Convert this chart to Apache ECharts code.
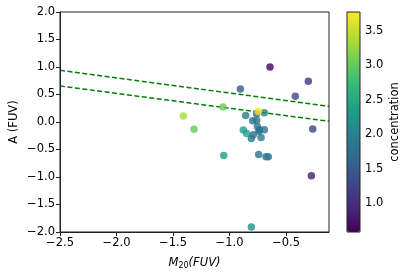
<!DOCTYPE html>
<html><head><meta charset="utf-8">
<script src="https://cdn.jsdelivr.net/npm/echarts@6/dist/echarts.min.js"></script>
<style>html,body{margin:0;padding:0;background:#fff}#c{width:407px;height:275px}</style>
</head><body><div id="c"></div>
<script>
// Data
var m20 = [-0.642, -0.303, -0.418, -0.904, -1.058, -1.409, -1.314, -0.692, -0.760, -0.857, -0.795, -0.760, -0.754, -0.736, -0.692, -0.740, -0.878, -0.848, -0.789, -0.807, -0.721, -1.051, -0.742, -0.677, -0.657, -0.264, -0.276, -0.807, -0.745];
var asym = [1.00, 0.74, 0.467, 0.60, 0.273, 0.109, -0.133, 0.17, 0.15, 0.12, 0.025, 0.03, -0.08, -0.14, -0.14, -0.17, -0.145, -0.21, -0.23, -0.30, -0.28, -0.61, -0.59, -0.63, -0.63, -0.127, -0.975, -1.91, 0.195];
var conc = [0.60, 1.06, 1.28, 1.50, 3.05, 3.35, 3.00, 2.00, 1.80, 1.90, 1.80, 1.80, 1.80, 1.80, 1.80, 1.80, 2.35, 2.35, 1.80, 1.85, 1.85, 2.35, 1.80, 1.80, 1.80, 1.22, 0.84, 2.20, 3.77];
var upperLine = [[-2.5, 0.94], [-0.12, 0.285]];
var lowerLine = [[-2.5, 0.655], [-0.12, 0.013]];
var xTicks = [-2.5, -2.0, -1.5, -1.0, -0.5];
var yTicks = [-2.0, -1.5, -1.0, -0.5, 0.0, 0.5, 1.0, 1.5, 2.0];
var cTicks = [1.0, 1.5, 2.0, 2.5, 3.0, 3.5];
var cMin = 0.584, cMax = 3.775;

var viridis = ['#440154','#482878','#3e4989','#31688e','#26828e','#1f9e89','#35b779','#6ece58','#b5de2b','#fde725'];
var pts = m20.map(function(x, i){ return [x, asym[i], conc[i]]; });
function fmt(v){ return v.toFixed(1).replace('-', '\u2212'); }
var font = 'DejaVu Sans';
var fs = 11.5;
var axisCol = '#222';

var chart = echarts.init(document.getElementById('c'), null, {renderer:'canvas'});
chart.setOption({
  animation: false,
  textStyle: {fontFamily: font},
  grid: [
    {left: 60, top: 12, width: 269, height: 220, show: true, borderColor: axisCol, borderWidth: 1, z: 10, containLabel: false, outerBoundsMode: 'none'},
    {left: 347, top: 12, width: 13, height: 220, show: true, borderColor: axisCol, borderWidth: 1, z: 10, backgroundColor: 'transparent', containLabel: false, outerBoundsMode: 'none'}
  ],
  xAxis: [
    {type: 'value', gridIndex: 0, min: -2.5, max: -0.12, interval: 0.5,
     splitLine: {show: false},
     axisLine: {show: true, onZero: false, lineStyle: {color: axisCol}},
     axisTick: {show: true, length: 4, customValues: xTicks, lineStyle: {color: axisCol}},
     axisLabel: {customValues: xTicks, formatter: fmt, color: '#000', fontSize: fs, fontFamily: font, margin: 5},
     name: '{i|M}{s|20}{i|(FUV)}', nameLocation: 'middle', nameGap: 24, nameMoveOverlap: false,
     nameTextStyle: {rich: {i: {fontStyle: 'italic', fontSize: fs, fontFamily: font, color: '#000'}, s: {fontSize: 8, fontFamily: font, color: '#000', verticalAlign: 'bottom', padding: [6,0,0,0]}}}
    },
    {type: 'value', gridIndex: 1, min: 0, max: 1, show: false}
  ],
  yAxis: [
    {type: 'value', gridIndex: 0, min: -2, max: 2, interval: 0.5,
     splitLine: {show: false},
     axisLine: {show: true, onZero: false, lineStyle: {color: axisCol}},
     axisTick: {show: true, length: 4, lineStyle: {color: axisCol}},
     axisLabel: {customValues: yTicks, formatter: fmt, color: '#000', fontSize: fs, fontFamily: font, margin: 5},
     name: 'A (FUV)', nameLocation: 'middle', nameGap: 40, nameRotate: 90, nameMoveOverlap: false,
     nameTextStyle: {color: '#000', fontSize: fs, fontFamily: font}
    },
    {type: 'value', gridIndex: 1, min: cMin, max: cMax, position: 'right',
     splitLine: {show: false},
     axisLine: {show: false},
     axisTick: {show: true, length: 4, customValues: cTicks, lineStyle: {color: axisCol}},
     axisLabel: {customValues: cTicks, formatter: fmt, color: '#000', fontSize: fs, fontFamily: font, margin: 5},
     name: 'concentration', nameLocation: 'middle', nameGap: 29, nameRotate: 90, nameMoveOverlap: false,
     nameTextStyle: {color: '#000', fontSize: fs, fontFamily: font}
    }
  ],
  visualMap: [{
    type: 'continuous', seriesIndex: 0, dimension: 2, min: cMin, max: cMax,
    inRange: {color: viridis}, calculable: false, text: ['', ''], showLabel: false,
    orient: 'vertical', left: 347, top: 12, itemWidth: 13, itemHeight: 220, padding: 0,
    hoverLink: false
  }],
  series: [
    {type: 'scatter', xAxisIndex: 0, yAxisIndex: 0, data: pts, symbolSize: 7.5, z: 3},
    {type: 'line', xAxisIndex: 0, yAxisIndex: 0, data: upperLine, symbol: 'none', z: 2,
     lineStyle: {color: '#008000', width: 1.5, type: [5, 2.5]}},
    {type: 'line', xAxisIndex: 0, yAxisIndex: 0, data: lowerLine, symbol: 'none', z: 2,
     lineStyle: {color: '#008000', width: 1.5, type: [5, 2.5]}}
  ]
});
</script></body></html>
